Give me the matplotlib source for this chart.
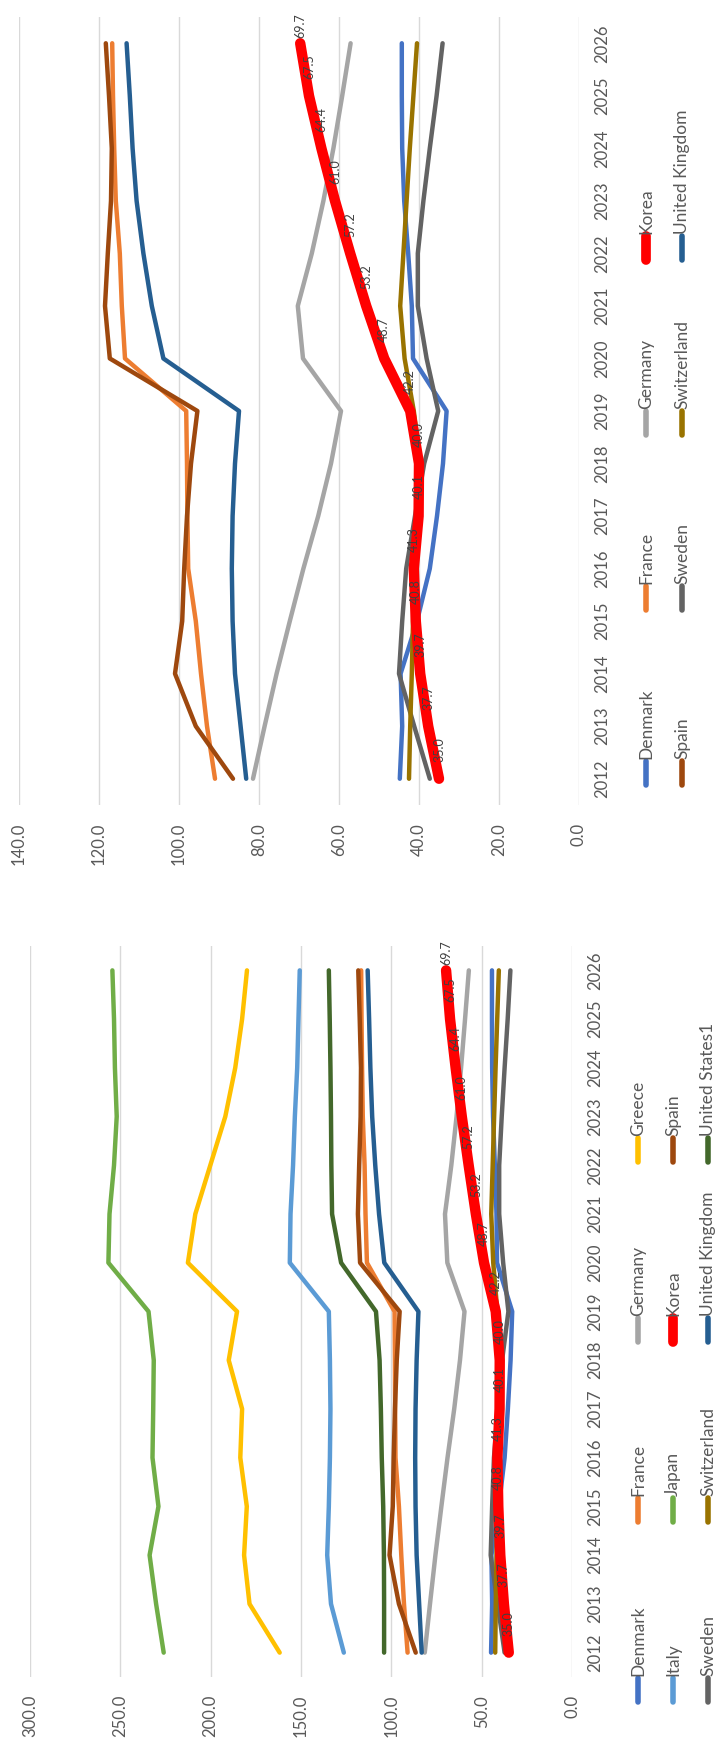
import numpy as np
import matplotlib.pyplot as plt
from matplotlib.lines import Line2D

plt.rcParams['font.family'] = ['Lato', 'DejaVu Sans']

W, H = 717, 1750
years = list(range(2012, 2027))

# debt ratios, 2012-2026
denmark = [44.8, 44.2, 44.6, 40.5, 37.3, 35.5, 34.0, 33.1, 41.5, 41.8, 42.7, 43.7, 44.2, 44.3, 44.3]
france = [91.0, 93.0, 94.5, 95.8, 97.7, 97.9, 98.0, 98.2, 113.5, 114.3, 114.8, 115.8, 116.2, 116.5, 116.7]
germany = [81.5, 78.6, 75.6, 72.3, 68.9, 65.2, 62.0, 59.5, 69.0, 70.3, 66.8, 63.9, 61.4, 59.2, 57.1]
greece = [161.8, 178.5, 181.5, 180.0, 183.6, 182.6, 190.0, 185.4, 212.6, 208.5, 200.2, 191.9, 186.4, 182.6, 179.9]
italy = [126.3, 133.4, 135.5, 134.6, 134.0, 133.7, 134.0, 134.6, 156.2, 155.8, 154.4, 153.4, 152.1, 151.4, 150.7]
japan = [226.0, 230.2, 233.8, 228.9, 232.2, 231.8, 231.5, 234.4, 256.6, 256.0, 253.5, 252.0, 253.0, 253.5, 254.4]
korea = [35.0, 37.7, 39.7, 40.8, 41.3, 40.1, 40.0, 42.2, 48.7, 53.2, 57.2, 61.0, 64.4, 67.5, 69.7]
spain = [86.5, 95.8, 101.0, 99.2, 98.7, 98.0, 97.0, 95.4, 117.3, 118.5, 117.8, 117.0, 116.8, 117.5, 118.3]
sweden = [37.3, 41.2, 45.0, 44.2, 43.2, 41.0, 38.7, 35.2, 38.1, 40.3, 40.3, 38.9, 37.3, 35.6, 34.1]
switzerland = [42.5, 42.2, 41.8, 41.5, 41.2, 40.6, 39.6, 41.3, 43.6, 44.7, 43.9, 43.1, 42.3, 41.4, 40.5]
uk = [83.2, 84.6, 86.0, 86.6, 86.8, 86.6, 86.0, 85.0, 103.9, 106.8, 108.9, 110.6, 111.6, 112.3, 113.1]
us = [104.0, 104.0, 104.1, 104.5, 105.3, 105.8, 106.5, 108.5, 127.8, 132.8, 133.2, 133.4, 133.7, 134.1, 134.6]

series = {
    'Denmark': (denmark, '#4472C4'),
    'France': (france, '#ED7D31'),
    'Germany': (germany, '#A5A5A5'),
    'Greece': (greece, '#FFC000'),
    'Italy': (italy, '#5B9BD5'),
    'Japan': (japan, '#70AD47'),
    'Korea': (korea, '#FF0000'),
    'Spain': (spain, '#9E480E'),
    'Sweden': (sweden, '#636363'),
    'Switzerland': (switzerland, '#997300'),
    'United Kingdom': (uk, '#255E91'),
    'United States1': (us, '#43682B'),
}

names_all = list(series.keys())
names_eu = ['Denmark', 'France', 'Germany', 'Korea', 'Spain', 'Sweden', 'Switzerland', 'United Kingdom']

TXT = '#595959'
fig = plt.figure(figsize=(W / 100, H / 100), dpi=100)


def fx(x):
    return x / W


def fy(y):
    return 1 - y / H


def chart(x0, x1, y_top, y_bot, names, vmax, step, leg_x, leg_y, rows):
    # page is turned: values run right to left, years run upwards
    ax = fig.add_axes([fx(x0), fy(y_bot), (x1 - x0) / W, (y_bot - y_top) / H])
    for v in np.arange(0, vmax + step / 2, step):
        ax.axvline(v, color='#D9D9D9', lw=1, zorder=1)
    for name in names:
        vals, col = series[name]
        if name == 'Korea':
            ax.plot(vals, years, color=col, lw=7.5, solid_capstyle='round',
                    solid_joinstyle='round', zorder=3)
        else:
            ax.plot(vals, years, color=col, lw=3.2, solid_capstyle='round',
                    solid_joinstyle='round', zorder=2)
    # data labels on Korea
    for i, (yr, v) in enumerate(zip(years, korea)):
        off = 4 if i == len(years) - 1 else 12
        ax.annotate(f'{v:.1f}', (v, yr), xytext=(0, off), textcoords='offset points',
                    rotation=90, ha='center', va='bottom', fontsize=9,
                    color='#404040', zorder=5)
    ax.set_xlim(vmax, 0)
    ax.set_ylim(2011.5, 2026.5)
    ticks = np.arange(0, vmax + step / 2, step)
    ax.set_xticks(ticks)
    ax.set_xticklabels([f'{v:.1f}' for v in ticks], rotation=90, va='top',
                       ha='center', fontsize=12, color=TXT)
    ax.set_yticks(years)
    ax.yaxis.tick_right()
    ax.set_yticklabels([str(y) for y in years], rotation=90, va='center',
                       ha='left', fontsize=12, color=TXT)
    ax.tick_params(axis='x', length=0, pad=13)
    ax.tick_params(axis='y', length=0, pad=11)
    for s in ax.spines.values():
        s.set_visible(False)
    ax.patch.set_alpha(0)

    # legend, written sideways
    for r, row in enumerate(rows):
        for c, name in enumerate(row):
            col = series[name][1]
            x = leg_x[r]
            yc = leg_y[c]
            lw = 7 if name == 'Korea' else 4
            fig.add_artist(Line2D([fx(x), fx(x)], [fy(yc + 12), fy(yc - 12)],
                                  color=col, lw=lw, solid_capstyle='round'))
            fig.text(fx(x), fy(yc - 14), name, rotation=90, ha='center',
                     va='bottom', fontsize=12.5, color=TXT)
    return ax


chart(19, 579, 17, 805, names_eu, 140, 20,
      [646, 682], [773, 598, 423, 248],
      [['Denmark', 'France', 'Germany', 'Korea'],
       ['Spain', 'Sweden', 'Switzerland', 'United Kingdom']])

chart(30, 572, 946, 1677, names_all, 300, 50,
      [638, 673, 708], [1690, 1510, 1330, 1150],
      [['Denmark', 'France', 'Germany', 'Greece'],
       ['Italy', 'Japan', 'Korea', 'Spain'],
       ['Sweden', 'Switzerland', 'United Kingdom', 'United States1']])

fig.savefig('out.png', dpi=100)
